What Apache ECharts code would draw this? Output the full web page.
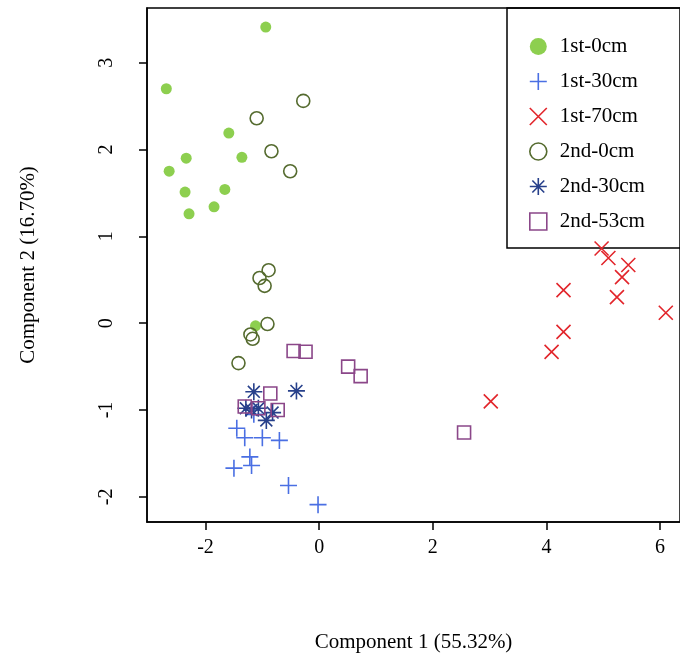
<!DOCTYPE html>
<html><head><meta charset="utf-8">
<script src="https://cdn.jsdelivr.net/npm/echarts@6/dist/echarts.min.js"></script>
<style>html,body{margin:0;padding:0;background:#fff}#c{width:680px;height:661px}</style>
</head><body><div id="c"></div>
<script>
const names = ['1st-0cm','1st-30cm','1st-70cm','2nd-0cm','2nd-30cm','2nd-53cm'];
const s1st0 = [[-0.94,3.41],[-2.69,2.70],[-1.59,2.19],[-1.36,1.91],[-2.34,1.90],[-2.64,1.75],[-2.36,1.51],[-1.66,1.54],[-1.85,1.34],[-2.29,1.26],[-1.12,-0.03]];
const s1st30 = [[-1.45,-1.21],[-1.31,-1.32],[-1.0,-1.32],[-0.70,-1.35],[-1.22,-1.54],[-1.19,-1.64],[-1.50,-1.67],[-0.54,-1.87],[-0.02,-2.09],[-1.15,-1.05]];
const s1st70 = [[4.97,0.86],[5.09,0.75],[5.44,0.67],[5.33,0.53],[5.24,0.30],[4.30,0.38],[4.30,-0.10],[4.09,-0.33],[6.10,0.12],[3.02,-0.90]];
const s2nd0 = [[-0.28,2.56],[-1.10,2.36],[-0.84,1.98],[-0.51,1.75],[-1.05,0.52],[-0.89,0.61],[-0.96,0.43],[-0.91,-0.01],[-1.21,-0.13],[-1.17,-0.18],[-1.42,-0.46]];
const s2nd30 = [[-1.15,-0.79],[-0.40,-0.78],[-1.07,-0.98],[-1.29,-0.98],[-0.93,-1.12],[-0.82,-1.03],[-1.19,-1.0]];
const s2nd53 = [[-0.45,-0.32],[-0.24,-0.33],[0.51,-0.50],[0.73,-0.61],[2.55,-1.26],[-0.86,-0.81],[-1.31,-0.96],[-1.07,-0.98],[-0.73,-1.0]];
const data = [s1st0,s1st30,s1st70,s2nd0,s2nd30,s2nd53];
const colors = ['#8dcf4f','#4a6fe3','#e2252b','#556b2f','#27408b','#8b4789'];
const symbols = ['circle','path://M-1,0L1,0M0,-1L0,1','path://M-1,-1L1,1M-1,1L1,-1','circle','path://M-1,0L1,0M0,-1L0,1M-0.7,-0.7L0.7,0.7M-0.7,0.7L0.7,-0.7','rect'];
const sizes = [11,17,14,13,17,13];
const font = 'Liberation Serif';
const chart = echarts.init(document.getElementById('c'));
chart.setOption({
  animation:false,
  grid:{left:147,right:-2,top:8,bottom:139,show:true,borderColor:'#000',borderWidth:1.5},
  xAxis:{type:'value',min:-3.03,max:6.35,splitNumber:5,
    name:'Component 1 (55.32%)',nameLocation:'middle',nameGap:110,
    nameTextStyle:{fontFamily:font,fontSize:21,color:'#000'},
    axisLine:{show:true,onZero:false,lineStyle:{color:'#000',width:1.5}},
    axisTick:{show:true,length:8,lineStyle:{color:'#000',width:1.5}},
    axisLabel:{showMinLabel:false,showMaxLabel:false,margin:16,fontFamily:font,fontSize:20,color:'#000'},
    splitLine:{show:false}},
  yAxis:{type:'value',min:-2.29,max:3.63,splitNumber:6,
    name:'Component 2 (16.70%)',nameLocation:'middle',nameGap:108,
    nameTextStyle:{fontFamily:font,fontSize:21,color:'#000'},
    axisLine:{show:true,onZero:false,lineStyle:{color:'#000',width:1.5}},
    axisTick:{show:true,length:8,lineStyle:{color:'#000',width:1.5}},
    axisLabel:{showMinLabel:false,showMaxLabel:false,rotate:90,margin:30,fontFamily:font,fontSize:20,color:'#000'},
    splitLine:{show:false}},
  legend:{orient:'vertical',left:524,top:31,itemGap:14,itemWidth:17,itemHeight:17,
    backgroundColor:'#fff',
    textStyle:{fontFamily:font,fontSize:21,color:'#000',padding:[0,0,0,8]},
    data:names.map((n,i)=>({name:n,icon:symbols[i],
      itemStyle: i===0 ? {color:colors[i]} : {color:'transparent',borderColor:colors[i],borderWidth:1.6}}))},
  graphic:[{type:'rect',shape:{x:507,y:8,width:200,height:240},style:{fill:'none',stroke:'#000',lineWidth:1.5},z:0}],
  series:data.map((d,i)=>({type:'scatter',name:names[i],data:d,symbol:symbols[i],symbolSize:sizes[i],
    itemStyle: i===0 ? {color:colors[i],opacity:1} : {color:'transparent',borderColor:colors[i],borderWidth:1.6,opacity:1}}))
});
</script></body></html>
